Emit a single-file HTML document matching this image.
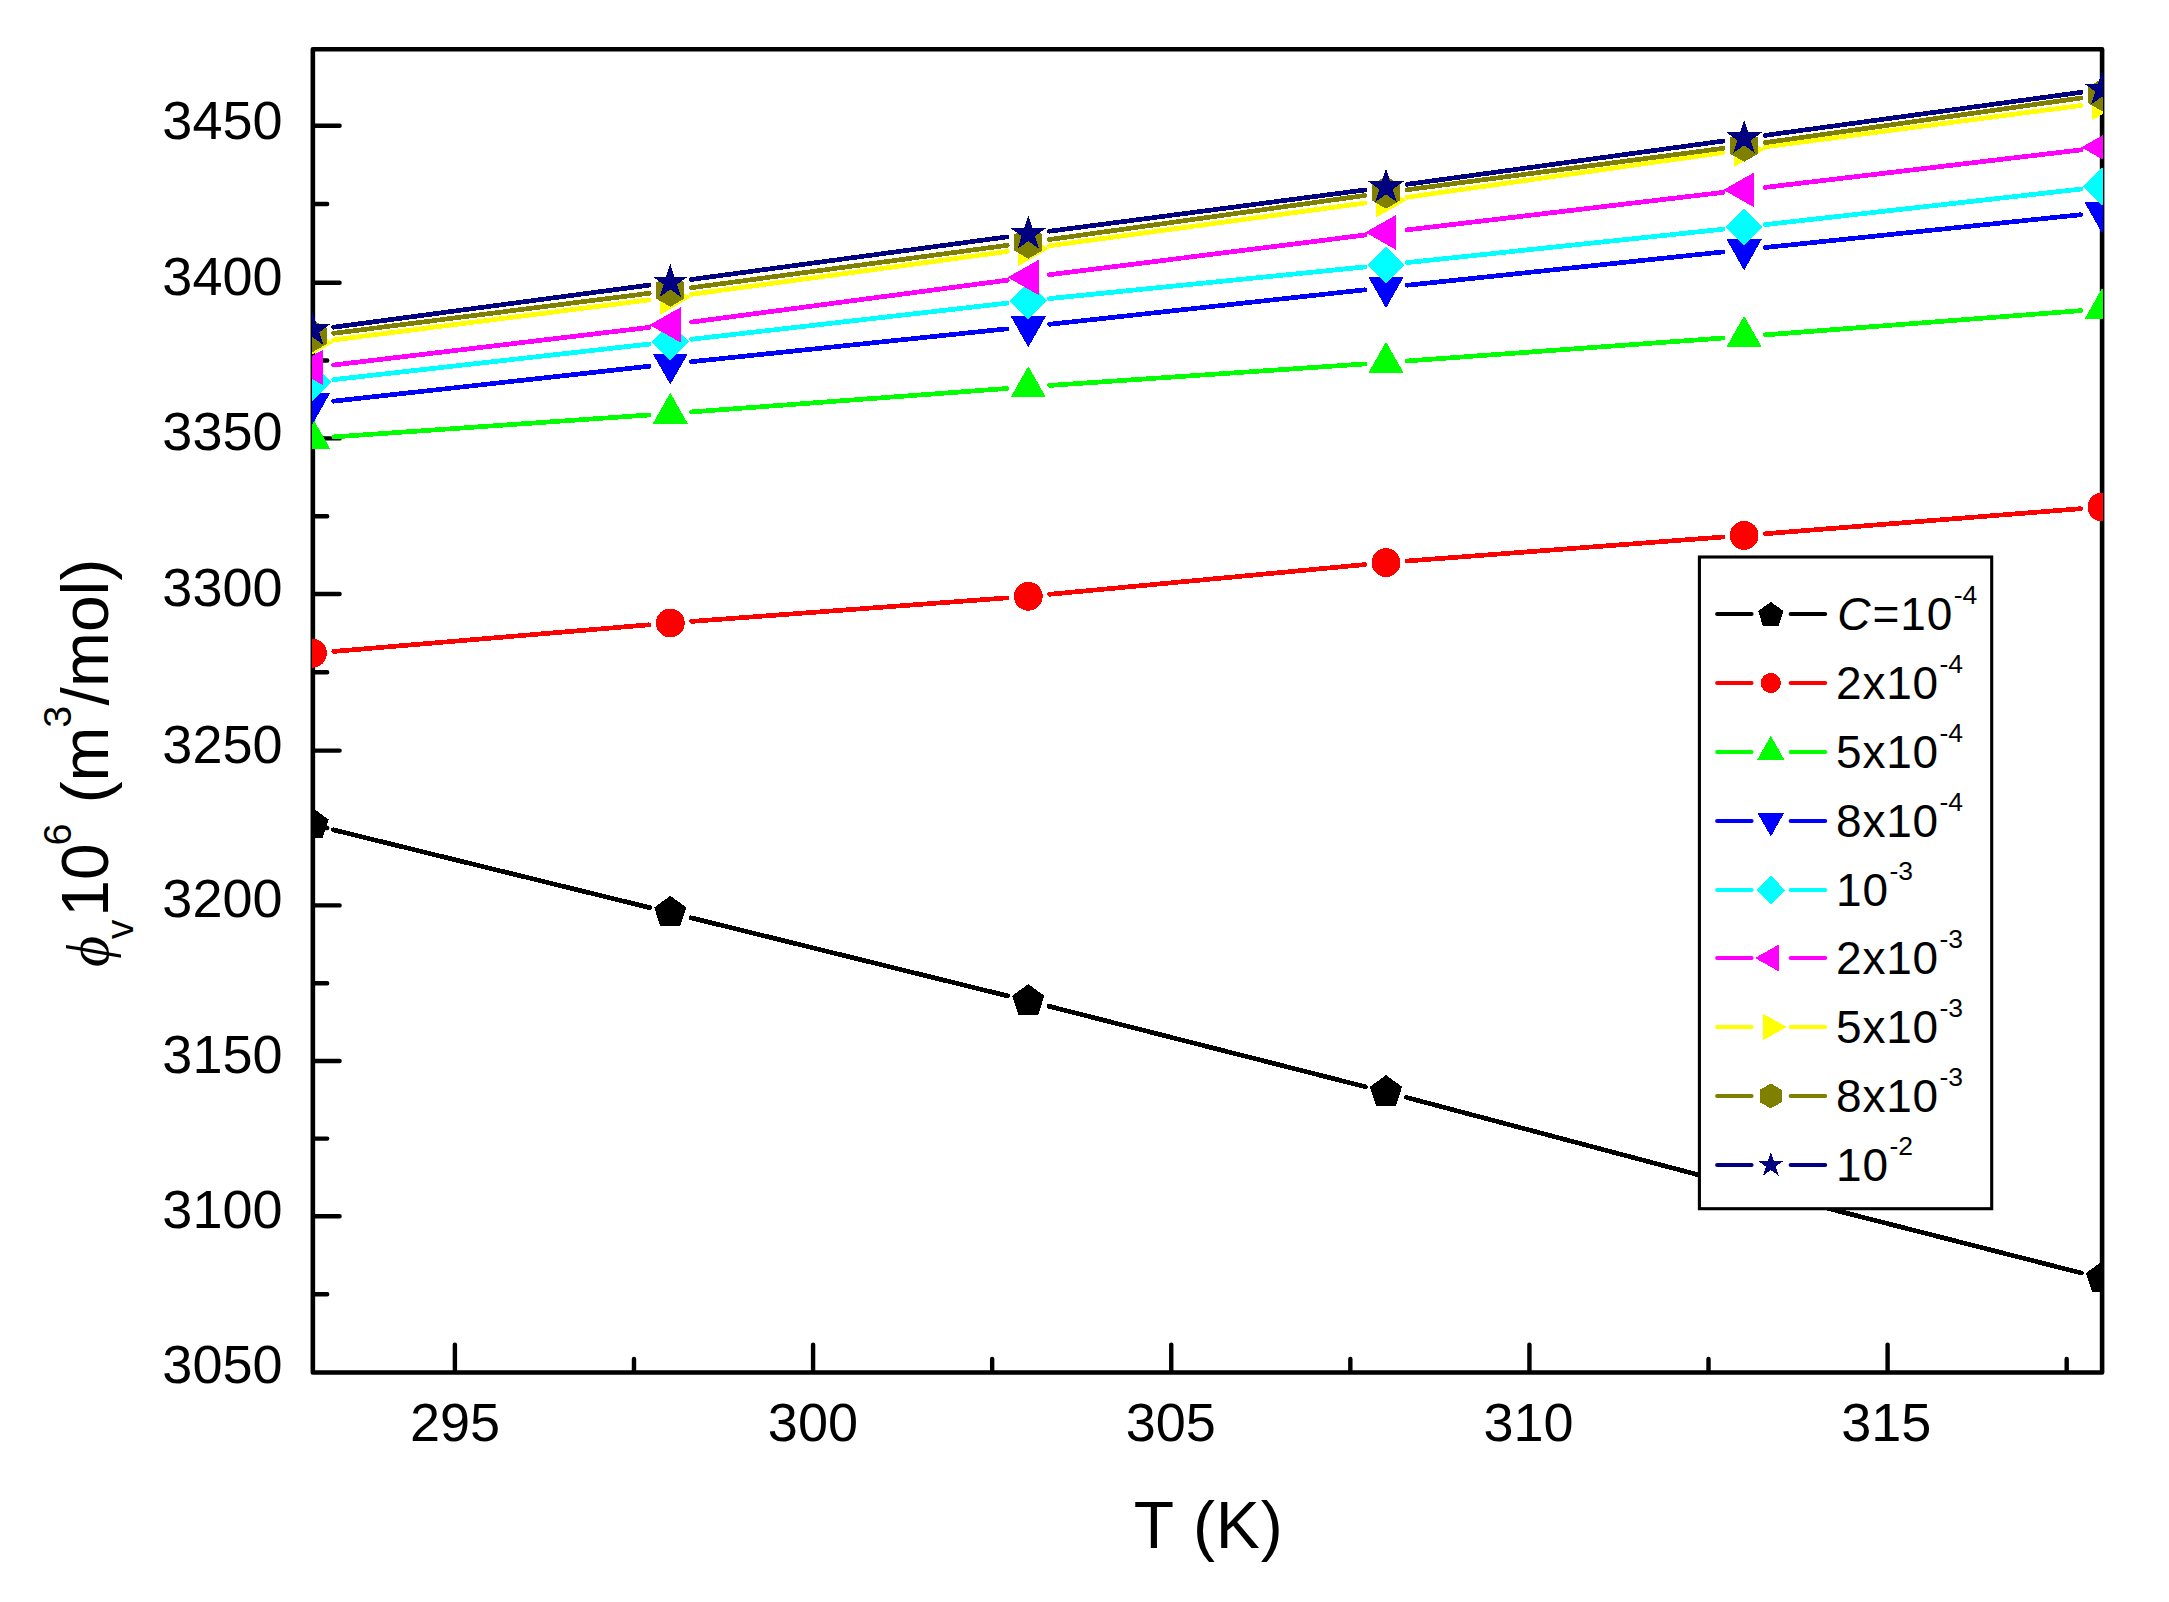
<!DOCTYPE html>
<html lang="en"><head><meta charset="utf-8"><title>Apparent molar volume vs temperature</title>
<style>html,body{margin:0;padding:0;background:#fff}body{width:2169px;height:1602px;overflow:hidden}svg{display:block}text{font-family:"Liberation Sans",sans-serif;fill:#000}.sy{font-family:"Liberation Serif","DejaVu Serif",serif;font-style:italic}</style></head><body>
<svg width="2169" height="1602" viewBox="0 0 2169 1602">
<rect x="0" y="0" width="2169" height="1602" fill="#ffffff"/>
<defs><clipPath id="plot"><rect x="312" y="47" width="1791" height="1328"/></clipPath></defs>
<g id="axes" stroke="#000" fill="none" stroke-width="4.6">
<rect x="312.85" y="49.20" width="1789.25" height="1323.30" stroke-linejoin="round"/>
<path d="M314.05 1216.30H339.60M314.05 1061.00H339.60M314.05 905.40H339.60M314.05 750.60H339.60M314.05 594.00H339.60M314.05 438.40H339.60M314.05 282.70H339.60M314.05 125.80H339.60M314.05 1294.30H327.20M314.05 1138.60H327.20M314.05 983.30H327.20M314.05 828.00H327.20M314.05 672.20H327.20M314.05 516.20H327.20M314.05 360.50H327.20M314.05 204.00H327.20M454.90 1371.30V1344.60M813.08 1371.30V1344.60M1171.25 1371.30V1344.60M1529.43 1371.30V1344.60M1887.60 1371.30V1344.60M633.99 1371.30V1359.00M992.16 1371.30V1359.00M1350.34 1371.30V1359.00M1708.51 1371.30V1359.00M2066.69 1371.30V1359.00" stroke-width="4.4" stroke-linecap="round"/>
</g>
<g id="ylabels" font-size="54" text-anchor="end">
<text x="282.5" y="138.7">3450</text>
<text x="282.5" y="294.5">3400</text>
<text x="282.5" y="449.6">3350</text>
<text x="282.5" y="606.2">3300</text>
<text x="282.5" y="762.6">3250</text>
<text x="282.5" y="917.4">3200</text>
<text x="282.5" y="1073.0">3150</text>
<text x="282.5" y="1228.1">3100</text>
<text x="282.5" y="1382.8">3050</text>
</g>
<g id="xlabels" font-size="54" text-anchor="middle">
<text x="455.1" y="1441.0">295</text>
<text x="812.9" y="1441.0">300</text>
<text x="1170.7" y="1441.0">305</text>
<text x="1528.5" y="1441.0">310</text>
<text x="1886.3" y="1441.0">315</text>
</g>
<text id="xtitle" x="1208.7" y="1548.3" font-size="66" letter-spacing="0.9" text-anchor="middle">T (K)</text>
<g id="ytitle" transform="translate(107.6 967) rotate(-90)" font-size="66"><text x="0" y="0"><tspan class="sy" font-size="60">ϕ</tspan><tspan font-size="39.5" x="27.7" dy="25.4">v</tspan><tspan x="50.2" dy="-25.4">10</tspan><tspan font-size="39.5" x="121.5" dy="-36.4">6</tspan><tspan x="145.3" dy="36.4"> (m</tspan><tspan font-size="39.5" x="239.2" dy="-36.4">3</tspan><tspan x="261.6" dy="36.4">/mol)</tspan></text></g>
<g id="data" clip-path="url(#plot)" shape-rendering="crispEdges">
<path d="M333.18 829.79L649.62 907.61M690.98 917.80L1007.62 995.90M1048.94 1006.25L1365.36 1086.75M1406.59 1097.46L1723.51 1181.54M1764.74 1192.27L2081.36 1273.03" stroke="#000000" stroke-width="4.7" stroke-linecap="round" fill="none"/>
<polygon points="312.50,807.80 328.57,819.48 322.43,838.37 302.57,838.37 296.43,819.48" fill="#000000"/>
<polygon points="670.30,895.80 686.37,907.48 680.23,926.37 660.37,926.37 654.23,907.48" fill="#000000"/>
<polygon points="1028.30,984.10 1044.37,995.78 1038.23,1014.67 1018.37,1014.67 1012.23,995.78" fill="#000000"/>
<polygon points="1386.00,1075.10 1402.07,1086.78 1395.93,1105.67 1376.07,1105.67 1369.93,1086.78" fill="#000000"/>
<polygon points="1744.10,1170.10 1760.17,1181.78 1754.03,1200.67 1734.17,1200.67 1728.03,1181.78" fill="#000000"/>
<polygon points="2102.00,1261.40 2118.07,1273.08 2111.93,1291.97 2092.07,1291.97 2085.93,1273.08" fill="#000000"/>
<path d="M333.72 651.41L649.08 624.79M691.54 621.42L1007.06 597.88M1049.51 594.30L1364.79 564.60M1407.24 560.99L1722.86 537.01M1765.33 533.72L2080.77 508.68" stroke="#ff0000" stroke-width="4.7" stroke-linecap="round" fill="none"/>
<circle cx="312.50" cy="653.20" r="14.40" fill="#ff0000"/>
<circle cx="670.30" cy="623.00" r="14.40" fill="#ff0000"/>
<circle cx="1028.30" cy="596.30" r="14.40" fill="#ff0000"/>
<circle cx="1386.00" cy="562.60" r="14.40" fill="#ff0000"/>
<circle cx="1744.10" cy="535.40" r="14.40" fill="#ff0000"/>
<circle cx="2102.00" cy="507.00" r="14.40" fill="#ff0000"/>
<path d="M333.75 436.92L649.05 414.98M691.54 411.92L1007.06 388.48M1049.55 385.45L1364.75 363.95M1407.24 360.96L1722.86 338.04M1765.34 334.87L2080.76 310.63" stroke="#00ff00" stroke-width="4.7" stroke-linecap="round" fill="none"/>
<polygon points="312.50,417.70 330.10,448.75 294.90,448.75" fill="#00ff00"/>
<polygon points="670.30,392.80 687.90,423.85 652.70,423.85" fill="#00ff00"/>
<polygon points="1028.30,366.20 1045.90,397.25 1010.70,397.25" fill="#00ff00"/>
<polygon points="1386.00,341.80 1403.60,372.85 1368.40,372.85" fill="#00ff00"/>
<polygon points="1744.10,315.80 1761.70,346.85 1726.50,346.85" fill="#00ff00"/>
<polygon points="2102.00,288.30 2119.60,319.35 2084.40,319.35" fill="#00ff00"/>
<path d="M333.67 401.16L649.13 366.24M691.49 361.69L1007.11 328.81M1049.47 324.29L1364.83 289.81M1407.18 285.26L1722.92 251.94M1765.29 247.50L2080.81 214.70" stroke="#0000ff" stroke-width="4.7" stroke-linecap="round" fill="none"/>
<polygon points="312.50,424.20 330.10,393.15 294.90,393.15" fill="#0000ff"/>
<polygon points="670.30,384.60 687.90,353.55 652.70,353.55" fill="#0000ff"/>
<polygon points="1028.30,347.30 1045.90,316.25 1010.70,316.25" fill="#0000ff"/>
<polygon points="1386.00,308.20 1403.60,277.15 1368.40,277.15" fill="#0000ff"/>
<polygon points="1744.10,270.40 1761.70,239.35 1726.50,239.35" fill="#0000ff"/>
<polygon points="2102.00,233.20 2119.60,202.15 2084.40,202.15" fill="#0000ff"/>
<path d="M333.67 379.62L649.13 344.08M691.46 339.28L1007.14 303.12M1049.49 298.57L1364.81 266.93M1407.18 262.56L1722.92 229.24M1765.27 224.62L2080.83 189.08" stroke="#00ffff" stroke-width="4.7" stroke-linecap="round" fill="none"/>
<polygon points="312.50,363.30 331.20,382.00 312.50,400.70 293.80,382.00" fill="#00ffff"/>
<polygon points="670.30,323.00 689.00,341.70 670.30,360.40 651.60,341.70" fill="#00ffff"/>
<polygon points="1028.30,282.00 1047.00,300.70 1028.30,319.40 1009.60,300.70" fill="#00ffff"/>
<polygon points="1386.00,246.10 1404.70,264.80 1386.00,283.50 1367.30,264.80" fill="#00ffff"/>
<polygon points="1744.10,208.30 1762.80,227.00 1744.10,245.70 1725.40,227.00" fill="#00ffff"/>
<polygon points="2102.00,168.00 2120.70,186.70 2102.00,205.40 2083.30,186.70" fill="#00ffff"/>
<path d="M333.65 364.98L649.15 327.42M691.41 322.10L1007.19 280.20M1049.43 274.74L1364.87 235.06M1407.15 229.89L1722.95 192.41M1765.25 187.39L2080.85 149.91" stroke="#ff00ff" stroke-width="4.7" stroke-linecap="round" fill="none"/>
<polygon points="291.80,367.50 322.85,349.90 322.85,385.10" fill="#ff00ff"/>
<polygon points="649.60,324.90 680.65,307.30 680.65,342.50" fill="#ff00ff"/>
<polygon points="1007.60,277.40 1038.65,259.80 1038.65,295.00" fill="#ff00ff"/>
<polygon points="1365.30,232.40 1396.35,214.80 1396.35,250.00" fill="#ff00ff"/>
<polygon points="1723.40,189.90 1754.45,172.30 1754.45,207.50" fill="#ff00ff"/>
<polygon points="2081.30,147.40 2112.35,129.80 2112.35,165.00" fill="#ff00ff"/>
<path d="M333.63 339.92L649.17 299.88M691.41 294.33L1007.19 251.47M1049.41 245.74L1364.89 203.06M1407.09 197.22L1723.01 152.58M1765.22 146.83L2080.88 105.47" stroke="#ffff00" stroke-width="4.7" stroke-linecap="round" fill="none"/>
<polygon points="333.20,342.60 302.15,325.00 302.15,360.20" fill="#ffff00"/>
<polygon points="691.00,297.20 659.95,279.60 659.95,314.80" fill="#ffff00"/>
<polygon points="1049.00,248.60 1017.95,231.00 1017.95,266.20" fill="#ffff00"/>
<polygon points="1406.70,200.20 1375.65,182.60 1375.65,217.80" fill="#ffff00"/>
<polygon points="1764.80,149.60 1733.75,132.00 1733.75,167.20" fill="#ffff00"/>
<polygon points="2122.70,102.70 2091.65,85.10 2091.65,120.30" fill="#ffff00"/>
<path d="M333.63 333.32L649.17 293.28M691.41 287.76L1007.19 245.34M1049.39 239.55L1364.91 195.45M1407.12 189.73L1722.98 148.37M1765.19 142.62L2080.91 97.98" stroke="#808000" stroke-width="4.7" stroke-linecap="round" fill="none"/>
<polygon points="312.50,319.80 326.53,327.90 326.53,344.10 312.50,352.20 298.47,344.10 298.47,327.90" fill="#808000"/>
<polygon points="670.30,274.40 684.33,282.50 684.33,298.70 670.30,306.80 656.27,298.70 656.27,282.50" fill="#808000"/>
<polygon points="1028.30,226.30 1042.33,234.40 1042.33,250.60 1028.30,258.70 1014.27,250.60 1014.27,234.40" fill="#808000"/>
<polygon points="1386.00,176.30 1400.03,184.40 1400.03,200.60 1386.00,208.70 1371.97,200.60 1371.97,184.40" fill="#808000"/>
<polygon points="1744.10,129.40 1758.13,137.50 1758.13,153.70 1744.10,161.80 1730.07,153.70 1730.07,137.50" fill="#808000"/>
<polygon points="2102.00,78.80 2116.03,86.90 2116.03,103.10 2102.00,111.20 2087.97,103.10 2087.97,86.90" fill="#808000"/>
<path d="M333.61 327.19L649.19 285.11M691.41 279.45L1007.19 236.85M1049.42 231.24L1364.88 189.96M1407.10 184.31L1723.00 141.09M1765.21 135.33L2080.89 92.37" stroke="#000080" stroke-width="4.7" stroke-linecap="round" fill="none"/>
<polygon points="312.50,311.50 316.65,324.28 330.09,324.28 319.22,332.18 323.37,344.97 312.50,337.07 301.63,344.97 305.78,332.18 294.91,324.28 308.35,324.28" fill="#000080"/>
<polygon points="670.30,263.80 674.45,276.58 687.89,276.58 677.02,284.48 681.17,297.27 670.30,289.37 659.43,297.27 663.58,284.48 652.71,276.58 666.15,276.58" fill="#000080"/>
<polygon points="1028.30,215.50 1032.45,228.28 1045.89,228.28 1035.02,236.18 1039.17,248.97 1028.30,241.07 1017.43,248.97 1021.58,236.18 1010.71,228.28 1024.15,228.28" fill="#000080"/>
<polygon points="1386.00,168.70 1390.15,181.48 1403.59,181.48 1392.72,189.38 1396.87,202.17 1386.00,194.27 1375.13,202.17 1379.28,189.38 1368.41,181.48 1381.85,181.48" fill="#000080"/>
<polygon points="1744.10,119.70 1748.25,132.48 1761.69,132.48 1750.82,140.38 1754.97,153.17 1744.10,145.27 1733.23,153.17 1737.38,140.38 1726.51,132.48 1739.95,132.48" fill="#000080"/>
<polygon points="2102.00,71.00 2106.15,83.78 2119.59,83.78 2108.72,91.68 2112.87,104.47 2102.00,96.57 2091.13,104.47 2095.28,91.68 2084.41,83.78 2097.85,83.78" fill="#000080"/>
</g>
<g id="legend">
<rect x="1699.4" y="557.0" width="292.3" height="651.7" fill="#fff" stroke="#000" stroke-width="3.1"/>
<path d="M1717.1 614.00H1751.6M1790.6 614.00H1825.2" stroke="#000000" stroke-width="4" stroke-linecap="round" fill="none"/>
<polygon points="1770.80,601.85 1783.50,611.07 1778.65,626.00 1762.95,626.00 1758.10,611.07" fill="#000000" shape-rendering="crispEdges"/>
<text x="1837.3" y="630.4" font-size="46" letter-spacing="0.8"><tspan font-style="italic">C</tspan><tspan x="1872.6">=10</tspan><tspan font-size="26.5" letter-spacing="0" dy="-26.9" dx="0.6">-4</tspan></text>
<path d="M1717.1 683.00H1751.6M1790.6 683.00H1825.2" stroke="#ff0000" stroke-width="4" stroke-linecap="round" fill="none"/>
<circle cx="1770.80" cy="683.00" r="10.08" fill="#ff0000" shape-rendering="crispEdges"/>
<text x="1836" y="699.4" font-size="46" letter-spacing="0.8">2x10<tspan font-size="26.5" letter-spacing="0" dy="-26.9" dx="0.6">-4</tspan></text>
<path d="M1717.1 752.00H1751.6M1790.6 752.00H1825.2" stroke="#00ff00" stroke-width="4" stroke-linecap="round" fill="none"/>
<polygon points="1770.80,735.85 1784.53,760.07 1757.07,760.07" fill="#00ff00" shape-rendering="crispEdges"/>
<text x="1836" y="768.4" font-size="46" letter-spacing="0.8">5x10<tspan font-size="26.5" letter-spacing="0" dy="-26.9" dx="0.6">-4</tspan></text>
<path d="M1717.1 821.00H1751.6M1790.6 821.00H1825.2" stroke="#0000ff" stroke-width="4" stroke-linecap="round" fill="none"/>
<polygon points="1770.80,836.52 1784.00,813.24 1757.60,813.24" fill="#0000ff" shape-rendering="crispEdges"/>
<text x="1836" y="837.4" font-size="46" letter-spacing="0.8">8x10<tspan font-size="26.5" letter-spacing="0" dy="-26.9" dx="0.6">-4</tspan></text>
<path d="M1717.1 890.00H1751.6M1790.6 890.00H1825.2" stroke="#00ffff" stroke-width="4" stroke-linecap="round" fill="none"/>
<polygon points="1770.80,875.79 1785.01,890.00 1770.80,904.21 1756.59,890.00" fill="#00ffff" shape-rendering="crispEdges"/>
<text x="1836" y="906.4" font-size="46" letter-spacing="0.8">10<tspan font-size="26.5" letter-spacing="0" dy="-26.9" dx="0.6">-3</tspan></text>
<path d="M1717.1 958.00H1751.6M1790.6 958.00H1825.2" stroke="#ff00ff" stroke-width="4" stroke-linecap="round" fill="none"/>
<polygon points="1755.07,958.00 1778.67,944.62 1778.67,971.38" fill="#ff00ff" shape-rendering="crispEdges"/>
<text x="1836" y="974.4" font-size="46" letter-spacing="0.8">2x10<tspan font-size="26.5" letter-spacing="0" dy="-26.9" dx="0.6">-3</tspan></text>
<path d="M1717.1 1027.00H1751.6M1790.6 1027.00H1825.2" stroke="#ffff00" stroke-width="4" stroke-linecap="round" fill="none"/>
<polygon points="1786.53,1027.00 1762.93,1013.62 1762.93,1040.38" fill="#ffff00" shape-rendering="crispEdges"/>
<text x="1836" y="1043.4" font-size="46" letter-spacing="0.8">5x10<tspan font-size="26.5" letter-spacing="0" dy="-26.9" dx="0.6">-3</tspan></text>
<path d="M1717.1 1096.00H1751.6M1790.6 1096.00H1825.2" stroke="#808000" stroke-width="4" stroke-linecap="round" fill="none"/>
<polygon points="1770.80,1083.53 1781.60,1089.76 1781.60,1102.24 1770.80,1108.47 1760.00,1102.24 1760.00,1089.76" fill="#808000" shape-rendering="crispEdges"/>
<text x="1836" y="1112.4" font-size="46" letter-spacing="0.8">8x10<tspan font-size="26.5" letter-spacing="0" dy="-26.9" dx="0.6">-3</tspan></text>
<path d="M1717.1 1165.00H1751.6M1790.6 1165.00H1825.2" stroke="#000080" stroke-width="4" stroke-linecap="round" fill="none"/>
<polygon points="1770.80,1151.68 1773.79,1160.88 1783.47,1160.88 1775.64,1166.57 1778.63,1175.78 1770.80,1170.09 1762.97,1175.78 1765.96,1166.57 1758.13,1160.88 1767.81,1160.88" fill="#000080" shape-rendering="crispEdges"/>
<text x="1836" y="1181.4" font-size="46" letter-spacing="0.8">10<tspan font-size="26.5" letter-spacing="0" dy="-26.9" dx="0.6">-2</tspan></text>
</g>
</svg></body></html>
